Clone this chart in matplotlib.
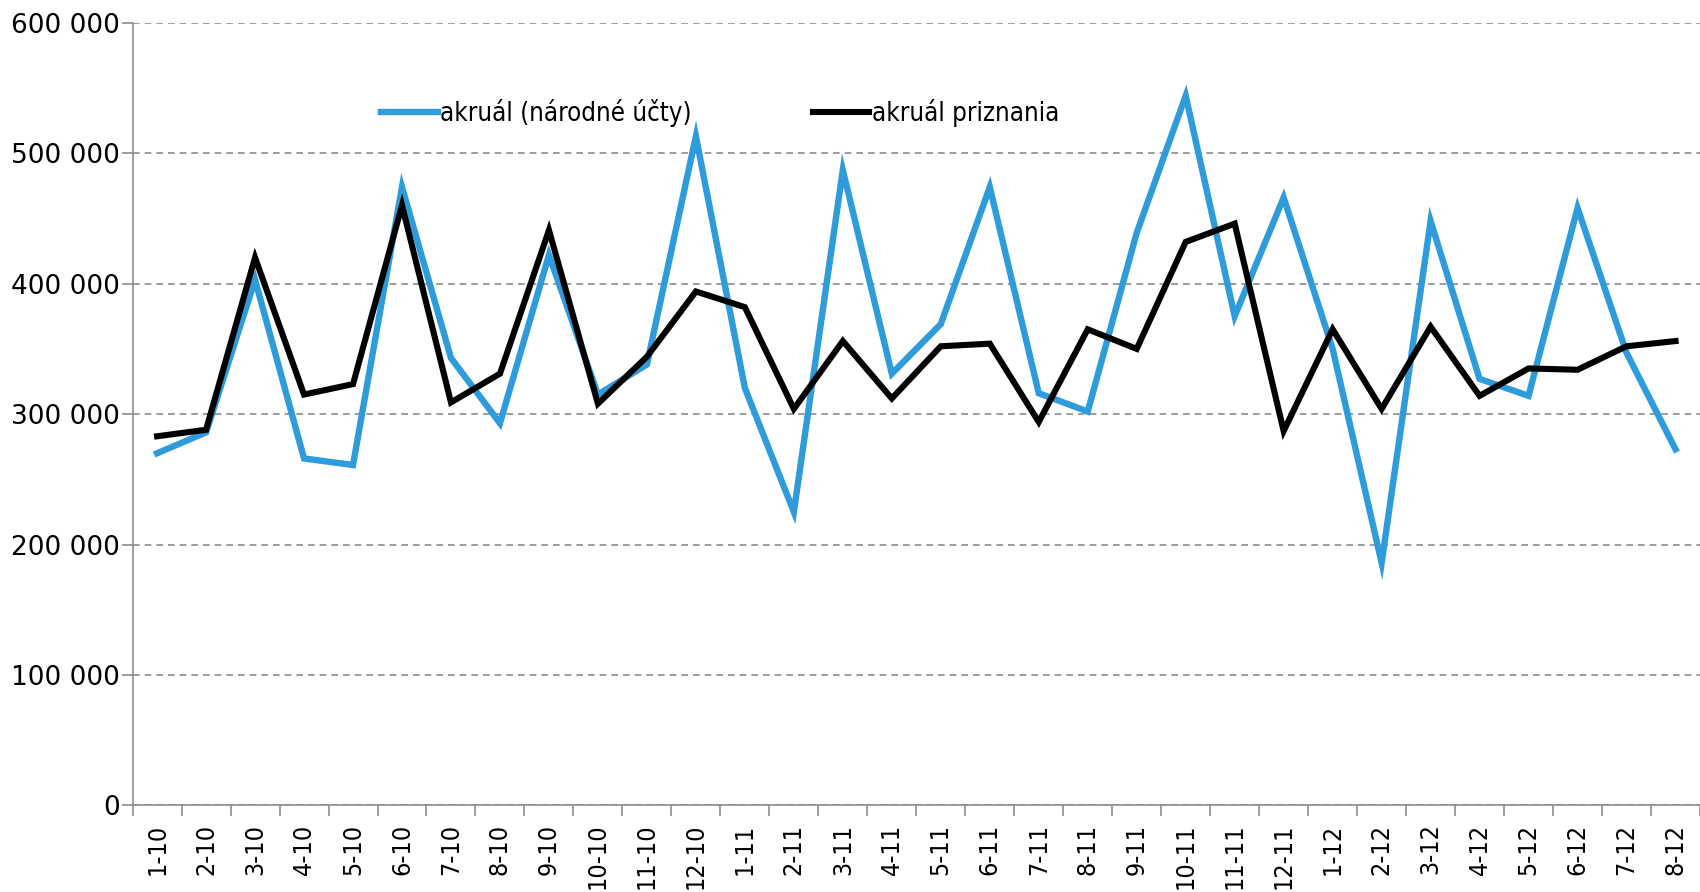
import matplotlib
matplotlib.use("Agg")
import matplotlib.pyplot as plt
from matplotlib.ticker import FuncFormatter, MultipleLocator, FixedLocator

categories = ["1-10", "2-10", "3-10", "4-10", "5-10", "6-10", "7-10", "8-10", "9-10", "10-10",
              "11-10", "12-10", "1-11", "2-11", "3-11", "4-11", "5-11", "6-11", "7-11", "8-11",
              "9-11", "10-11", "11-11", "12-11", "1-12", "2-12", "3-12", "4-12", "5-12", "6-12",
              "7-12", "8-12"]

akrual_nu = [270000, 286000, 403000, 266000, 261000, 474000, 343000, 293000, 422000, 315000,
             338000, 513000, 320000, 225000, 487000, 331000, 369000, 474000, 316000, 302000,
             439000, 544000, 375000, 466000, 350000, 186000, 448000, 327000, 314000, 458000,
             347000, 273000]

akrual_pr = [283000, 288000, 420000, 315000, 323000, 460000, 309000, 331000, 441000, 308000,
             344000, 394000, 382000, 304000, 356000, 312000, 352000, 354000, 294000, 365000,
             350000, 432000, 446000, 287000, 365000, 304000, 367000, 314000, 335000, 334000,
             352000, 356000]

label_nu = "akruál (národné účty)"
label_pr = "akruál priznania"

plt.rcParams['font.family'] = ['DejaVu Sans']

fig = plt.figure(figsize=(17, 8.92), dpi=100)
ax = fig.add_axes([0.078, 0.097, 0.922, 0.8775])

x = list(range(len(categories)))
ax.plot(x, akrual_nu, color="#2E9BDB", lw=4.6, label=label_nu, solid_joinstyle='miter', zorder=3)
ax.plot(x, akrual_pr, color="#000000", lw=4.4, label=label_pr, solid_joinstyle='miter', zorder=4)

ax.set_xlim(-0.5, len(categories) - 0.5)
ax.set_ylim(0, 600000)
ax.yaxis.set_major_locator(MultipleLocator(100000))
ax.yaxis.set_major_formatter(FuncFormatter(lambda v, p: "0" if v == 0 else f"{int(v):,}".replace(",", " ")))
ax.grid(axis='y', color="#8C8C8C", linestyle=(0, (4, 3)), linewidth=1.2)
ax.set_axisbelow(True)

ax.set_xticks(x)
ax.set_xticklabels(categories, rotation=90, fontsize=18, fontstretch='condensed')
ax.xaxis.set_minor_locator(FixedLocator([i - 0.5 for i in range(len(categories) + 1)]))
ax.tick_params(axis='x', which='major', length=0, pad=13)
ax.tick_params(axis='x', which='minor', length=8, width=1.2, color="#8C8C8C")
ax.tick_params(axis='y', length=8, width=1.2, color="#8C8C8C", labelsize=19, pad=1)

for s in ["top", "right"]:
    ax.spines[s].set_visible(False)
for s in ["left", "bottom"]:
    ax.spines[s].set_color("#8C8C8C")
    ax.spines[s].set_linewidth(1.2)

leg = ax.legend(loc='center left', bbox_to_anchor=(0.152, 0.885), ncol=2, frameon=False,
                prop={'size': 18.5, 'stretch': 'condensed'},
                handlelength=2.2, handletextpad=0.1, columnspacing=4.7,
                borderaxespad=0)

fig.savefig("out.png", dpi=100)
